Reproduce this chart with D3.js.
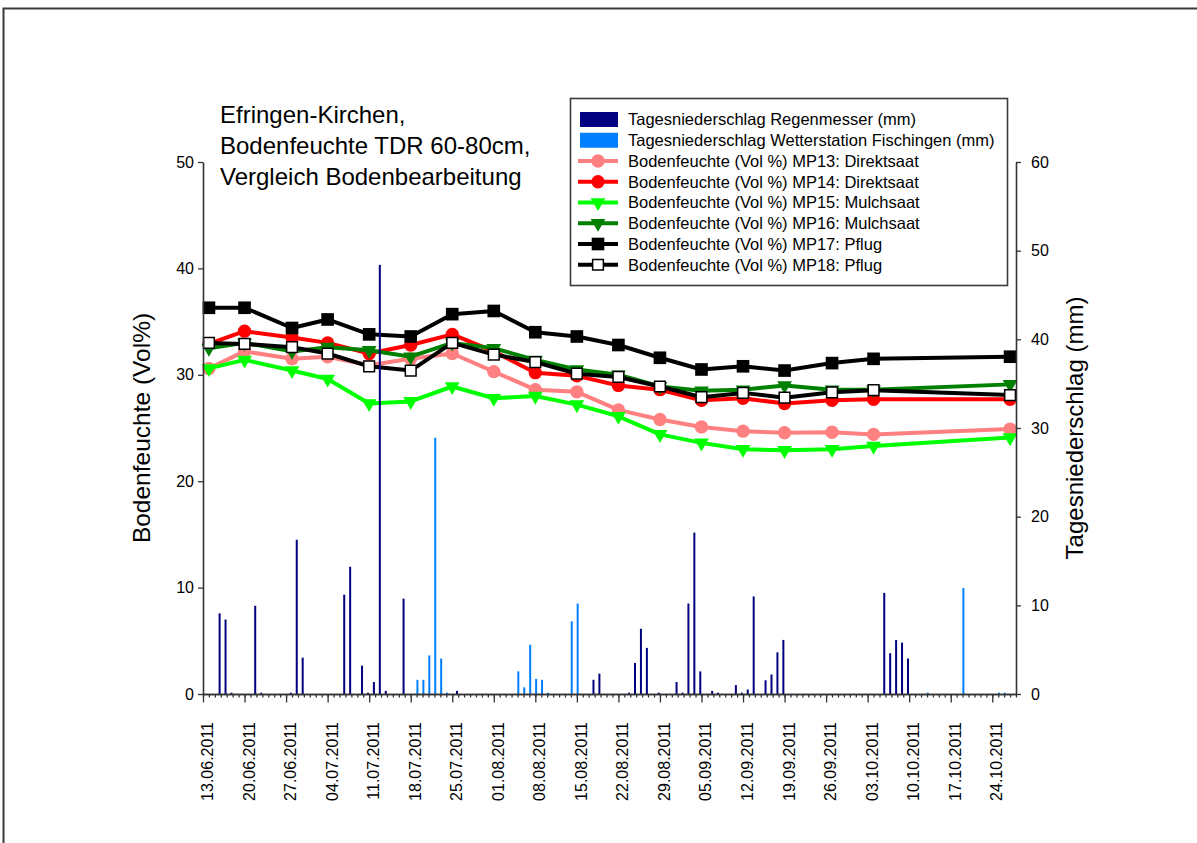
<!DOCTYPE html>
<html>
<head>
<meta charset="utf-8">
<script src="https://cdn.jsdelivr.net/npm/d3@7"></script>
<style>
  html, body { margin: 0; padding: 0; background: #fff; }
  svg { display: block; font-family: "Liberation Sans", Arial, sans-serif; }
</style>
</head>
<body>
<svg id="chart" width="1197" height="843"></svg>
<script>
// Measurement dates of the TDR soil moisture probes (60-80 cm)
const measureDates = ["14.06.2011","20.06.2011","28.06.2011","04.07.2011","11.07.2011","18.07.2011",
  "25.07.2011","01.08.2011","08.08.2011","15.08.2011","22.08.2011","29.08.2011","05.09.2011",
  "12.09.2011","19.09.2011","27.09.2011","04.10.2011","27.10.2011"];

// Soil moisture in Vol %
const mp13 = [30.6, 32.2, 31.5, 31.7, 30.9, 31.5, 32.0, 30.3, 28.6, 28.4, 26.7, 25.8, 25.1, 24.7, 24.55, 24.6, 24.4, 24.9];
const mp14 = [32.9, 34.1, 33.5, 33.0, 32.0, 32.8, 33.8, 32.2, 30.2, 29.9, 29.0, 28.6, 27.6, 27.8, 27.3, 27.6, 27.7, 27.7];
const mp15 = [30.6, 31.4, 30.4, 29.6, 27.3, 27.5, 28.9, 27.8, 28.0, 27.2, 26.1, 24.4, 23.6, 23.0, 22.9, 23.0, 23.3, 24.1];
const mp16 = [32.5, 33.0, 32.2, 32.6, 32.3, 31.7, 33.0, 32.5, 31.4, 30.5, 30.0, 28.9, 28.5, 28.6, 29.0, 28.6, 28.6, 29.1];
const mp17 = [36.3, 36.3, 34.4, 35.2, 33.8, 33.6, 35.7, 36.0, 34.0, 33.6, 32.8, 31.6, 30.5, 30.8, 30.4, 31.1, 31.5, 31.7];
const mp18 = [33.0, 32.9, 32.6, 32.0, 30.8, 30.4, 33.0, 31.9, 31.2, 30.1, 29.8, 28.9, 27.9, 28.3, 27.85, 28.35, 28.55, 28.1];

// Daily precipitation, rain gauge (mm)
const gaugeDates = ["16.06.2011","17.06.2011","18.06.2011","22.06.2011","23.06.2011","28.06.2011","29.06.2011",
  "30.06.2011","07.07.2011","08.07.2011","10.07.2011","11.07.2011","12.07.2011","13.07.2011","14.07.2011",
  "17.07.2011","26.07.2011","18.08.2011","19.08.2011","24.08.2011","25.08.2011","26.08.2011","27.08.2011",
  "29.08.2011","01.09.2011","02.09.2011","03.09.2011","04.09.2011","05.09.2011","07.09.2011","08.09.2011",
  "11.09.2011","12.09.2011","13.09.2011","14.09.2011","16.09.2011","17.09.2011","18.09.2011","19.09.2011",
  "06.10.2011","07.10.2011","08.10.2011","09.10.2011","10.10.2011"];
const gaugeMm = [9.1, 8.4, 0.15, 9.95, 0.15, 0.15, 17.4, 4.1, 11.2, 14.35, 3.2, 0.15, 1.35, 48.4, 0.35,
  10.75, 0.35, 1.6, 2.3, 0.15, 3.5, 7.35, 5.2, 0.15, 1.35, 0.15, 10.2, 18.2, 2.55, 0.35, 0.15,
  1.0, 0.15, 0.5, 11.0, 1.55, 2.2, 4.7, 6.1, 11.4, 4.6, 6.1, 5.8, 4.0];

// Daily precipitation, weather station Fischingen (mm)
const stationDates = ["19.07.2011","20.07.2011","21.07.2011","22.07.2011","23.07.2011","24.07.2011",
  "05.08.2011","06.08.2011","07.08.2011","08.08.2011","09.08.2011","10.08.2011","14.08.2011","15.08.2011",
  "13.10.2011","19.10.2011","25.10.2011","26.10.2011"];
const stationMm = [1.6, 1.6, 4.35, 28.9, 4.0, 0.15, 2.55, 0.75, 5.55, 1.7, 1.6, 0.15, 8.2, 10.2,
  0.15, 11.95, 0.15, 0.15];

const leftTicks = [0, 10, 20, 30, 40, 50];
const rightTicks = [0, 10, 20, 30, 40, 50, 60];
const titleLines = ["Efringen-Kirchen,", "Bodenfeuchte TDR 60-80cm,", "Vergleich Bodenbearbeitung"];

const parse = d3.utcParse("%d.%m.%Y");
const fmt = d3.utcFormat("%d.%m.%Y");

const svg = d3.select("#chart");

// outer frame
svg.append("rect")
  .attr("x", 3.5).attr("y", 8.5).attr("width", 1230).attr("height", 900)
  .attr("fill", "none").attr("stroke", "#3a3a3a").attr("stroke-width", 2);

const x = d3.scaleUtc()
  .domain([parse("13.06.2011"), parse("28.10.2011")])
  .range([203, 1016]);
const yL = d3.scaleLinear().domain([0, 50]).range([694, 162]);
const yR = d3.scaleLinear().domain([0, 60]).range([694, 162]);

// soil moisture series
const series = [
  { values: mp13, color: "#ff8080", marker: "circle" },
  { values: mp14, color: "#ff0000", marker: "circle" },
  { values: mp15, color: "#00ff00", marker: "triangle" },
  { values: mp16, color: "#008000", marker: "triangle" },
  { values: mp17, color: "#000000", marker: "square" },
  { values: mp18, color: "#000000", marker: "squareOpen" }
];

const line = d3.line().x(d => x(d.date)).y(d => yL(d.v));

function drawMarker(g, type, color) {
  if (type === "circle") {
    g.append("path").attr("d", d3.symbol(d3.symbolCircle, 140)()).attr("fill", color);
  } else if (type === "triangle") {
    g.append("path").attr("d", d3.symbol(d3.symbolTriangle, 95)())
      .attr("transform", "rotate(180)").attr("fill", color);
  } else if (type === "square") {
    g.append("path").attr("d", d3.symbol(d3.symbolSquare, 160)()).attr("fill", color);
  } else {
    g.append("path").attr("d", d3.symbol(d3.symbolSquare, 115)())
      .attr("fill", "#fff").attr("stroke", color).attr("stroke-width", 1.5);
  }
}

series.forEach(s => {
  const pts = measureDates.map((d, i) => ({ date: parse(d), v: s.values[i] }));
  const g = svg.append("g");
  g.append("path").datum(pts)
    .attr("d", line)
    .attr("fill", "none").attr("stroke", s.color)
    .attr("stroke-width", 4).attr("stroke-linejoin", "round");
  g.selectAll("g.m").data(pts).join("g")
    .attr("class", "m")
    .attr("transform", d => `translate(${x(d.date)},${yL(d.v)})`)
    .each(function () { drawMarker(d3.select(this), s.marker, s.color); });
});

// precipitation bars on the right axis (two series side by side around each day)
const barW = 2;
const gauge = gaugeDates.map((d, i) => ({ date: parse(d), v: gaugeMm[i] }));
const station = stationDates.map((d, i) => ({ date: parse(d), v: stationMm[i] }));

const barsG = svg.append("g");
barsG.selectAll("rect.gauge").data(gauge).join("rect")
  .attr("class", "gauge")
  .attr("x", d => x(d.date) - 1.2 - barW / 2)
  .attr("width", barW)
  .attr("y", d => yR(d.v))
  .attr("height", d => yR(0) - yR(d.v))
  .attr("fill", "#000080");
barsG.selectAll("rect.station").data(station).join("rect")
  .attr("class", "station")
  .attr("x", d => x(d.date) + 0.8 - barW / 2)
  .attr("width", barW)
  .attr("y", d => yR(d.v))
  .attr("height", d => yR(0) - yR(d.v))
  .attr("fill", "#0080ff");

// axes
const axisColor = "#333";
function styleAxis(g) {
  g.selectAll("path.domain").attr("stroke", axisColor).attr("stroke-width", 1.6);
  g.selectAll(".tick line").attr("stroke", axisColor).attr("stroke-width", 1.3);
  g.selectAll(".tick text").attr("fill", "#000");
}

const leftAxis = svg.append("g").attr("transform", "translate(203,0)")
  .call(d3.axisLeft(yL).tickValues(leftTicks).tickSize(5).tickSizeOuter(0).tickPadding(4))
  .attr("font-size", 16).attr("font-family", null);
styleAxis(leftAxis);

const rightAxis = svg.append("g").attr("transform", "translate(1016,0)")
  .call(d3.axisRight(yR).tickValues(rightTicks).tickSize(5).tickSizeOuter(0).tickPadding(10))
  .attr("font-size", 16).attr("font-family", null);
styleAxis(rightAxis);

const days = d3.utcDay.range(x.domain()[0], d3.utcDay.offset(x.domain()[1], 1));
const minorAxis = svg.append("g").attr("transform", "translate(0,694)")
  .call(d3.axisBottom(x).tickValues(days).tickSize(3.5).tickSizeOuter(0).tickFormat(""));
styleAxis(minorAxis);

const mondays = d3.utcMonday.range(x.domain()[0], x.domain()[1]);
const majorAxis = svg.append("g").attr("transform", "translate(0,694)")
  .call(d3.axisBottom(x).tickValues(mondays).tickSize(8.5).tickSizeOuter(0).tickFormat(fmt))
  .attr("font-size", 16).attr("font-family", null);
styleAxis(majorAxis);
majorAxis.selectAll(".tick text")
  .attr("transform", "rotate(-90)")
  .attr("text-anchor", "end")
  .attr("x", -28)
  .attr("y", 0)
  .attr("dy", "9.5px");

// axis titles
svg.append("text")
  .attr("transform", "translate(141,428) rotate(-90)")
  .attr("text-anchor", "middle").attr("dy", "0.35em")
  .attr("font-size", 24.5)
  .text("Bodenfeuchte (Vol%)");
svg.append("text")
  .attr("transform", "translate(1075,428) rotate(-90)")
  .attr("text-anchor", "middle").attr("dy", "0.35em")
  .attr("font-size", 24)
  .text("Tagesniederschlag (mm)");

// chart title
svg.append("g").selectAll("text").data(titleLines).join("text")
  .attr("x", 220)
  .attr("y", (d, i) => 123 + i * 31)
  .attr("font-size", 24)
  .text(d => d);

// legend
const legendItems = [
  { label: "Tagesniederschlag Regenmesser (mm)", type: "bar", color: "#000080" },
  { label: "Tagesniederschlag Wetterstation Fischingen (mm)", type: "bar", color: "#0080ff" },
  { label: "Bodenfeuchte (Vol %) MP13: Direktsaat", type: "circle", color: "#ff8080" },
  { label: "Bodenfeuchte (Vol %) MP14: Direktsaat", type: "circle", color: "#ff0000" },
  { label: "Bodenfeuchte (Vol %) MP15: Mulchsaat", type: "triangle", color: "#00ff00" },
  { label: "Bodenfeuchte (Vol %) MP16: Mulchsaat", type: "triangle", color: "#008000" },
  { label: "Bodenfeuchte (Vol %) MP17: Pflug", type: "square", color: "#000000" },
  { label: "Bodenfeuchte (Vol %) MP18: Pflug", type: "squareOpen", color: "#000000" }
];

const legend = svg.append("g");
legend.append("rect")
  .attr("x", 570.5).attr("y", 98.5).attr("width", 437).attr("height", 187)
  .attr("fill", "#fff").attr("stroke", "#3a3a3a").attr("stroke-width", 1.6);

const rows = legend.selectAll("g.row").data(legendItems).join("g")
  .attr("class", "row")
  .attr("transform", (d, i) => `translate(0,${119.5 + i * 20.75})`);

rows.each(function (d) {
  const g = d3.select(this);
  if (d.type === "bar") {
    g.append("rect").attr("x", 580).attr("y", -7.5).attr("width", 38).attr("height", 15)
      .attr("fill", d.color);
  } else {
    g.append("line").attr("x1", 578).attr("x2", 618).attr("y1", 0).attr("y2", 0)
      .attr("stroke", d.color).attr("stroke-width", 4);
    const m = g.append("g").attr("transform", "translate(598,0)");
    drawMarker(m, d.type, d.color);
  }
  g.append("text").attr("x", 628).attr("dy", "0.35em").attr("font-size", 16.5).text(d.label);
});
</script>
</body>
</html>
